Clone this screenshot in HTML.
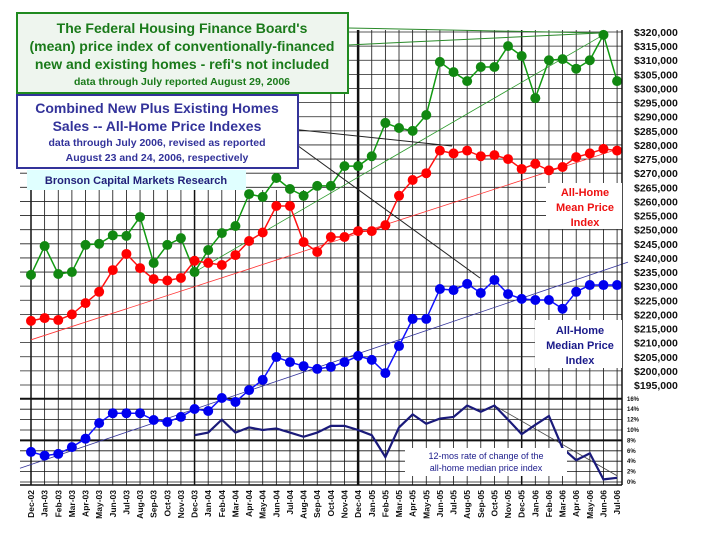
<!DOCTYPE html>
<html><head><meta charset="utf-8"><style>
body{margin:0;background:#fff;width:702px;height:539px;overflow:hidden;font-family:"Liberation Sans",sans-serif}
svg text{font-family:"Liberation Sans",sans-serif;font-weight:bold}
</style></head><body>
<svg id="chart" width="702" height="539" viewBox="0 0 702 539" xmlns="http://www.w3.org/2000/svg">
<g id="grid"></g>
<g id="trends"></g>
<g id="series"></g>
<g id="axes"></g>
<g>
<line x1="348" y1="28" x2="600" y2="33" stroke="#2a8a2a" stroke-width="1"/>
<line x1="348" y1="45" x2="600" y2="33" stroke="#2a8a2a" stroke-width="1"/>
<line x1="272" y1="127" x2="452" y2="146" stroke="#222" stroke-width="1"/>
<line x1="272" y1="127" x2="480" y2="278" stroke="#222" stroke-width="1"/>
<rect x="17" y="13" width="331" height="80" fill="#eef5ee" stroke="#1f8a1f" stroke-width="2"/>
<text x="182" y="33" font-size="14" fill="#1a7a1a" text-anchor="middle">The Federal Housing Finance Board's</text>
<text x="182" y="51" font-size="14" fill="#1a7a1a" text-anchor="middle">(mean) price index of conventionally-financed</text>
<text x="182" y="69" font-size="14" fill="#1a7a1a" text-anchor="middle">new and existing homes - refi's not included</text>
<text x="182" y="85" font-size="10.5" fill="#1a7a1a" text-anchor="middle">data through July reported August 29, 2006</text>
<rect x="17" y="95" width="281" height="73" fill="#fff" stroke="#33339a" stroke-width="2"/>
<text x="157" y="113" font-size="14" fill="#33339a" text-anchor="middle">Combined New Plus Existing Homes</text>
<text x="157" y="131" font-size="14" fill="#33339a" text-anchor="middle">Sales -- All-Home Price Indexes</text>
<text x="157" y="146" font-size="10.5" fill="#33339a" text-anchor="middle">data through July 2006, revised as reported</text>
<text x="157" y="161" font-size="10.5" fill="#33339a" text-anchor="middle">August 23 and 24, 2006, respectively</text>
<rect x="27" y="170" width="219" height="20" fill="#e0ffff"/>
<text x="136" y="184" font-size="11" fill="#22227a" text-anchor="middle">Bronson Capital Markets Research</text>
<rect x="546" y="183" width="76" height="46" fill="#fff"/>
<text x="585" y="196" font-size="11" fill="#ee1111" text-anchor="middle">All-Home</text>
<text x="585" y="211" font-size="11" fill="#ee1111" text-anchor="middle">Mean Price</text>
<text x="585" y="226" font-size="11" fill="#ee1111" text-anchor="middle">Index</text>
<rect x="535" y="320" width="87" height="48" fill="#fff"/>
<text x="580" y="334" font-size="11" fill="#1a1a8a" text-anchor="middle">All-Home</text>
<text x="580" y="349" font-size="11" fill="#1a1a8a" text-anchor="middle">Median Price</text>
<text x="580" y="364" font-size="11" fill="#1a1a8a" text-anchor="middle">Index</text>
<rect x="405" y="448" width="162" height="28" fill="#fff"/>
<text x="486" y="459" font-size="9" fill="#1a1a8a" text-anchor="middle" style="font-weight:normal">12-mos rate of change of the</text>
<text x="486" y="471" font-size="9" fill="#1a1a8a" text-anchor="middle" style="font-weight:normal">all-home median price index</text>
</g>
</svg>
<script>
const months=["Dec-02","Jan-03","Feb-03","Mar-03","Apr-03","May-03","Jun-03","Jul-03","Aug-03","Sep-03","Oct-03","Nov-03","Dec-03","Jan-04","Feb-04","Mar-04","Apr-04","May-04","Jun-04","Jul-04","Aug-04","Sep-04","Oct-04","Nov-04","Dec-04","Jan-05","Feb-05","Mar-05","Apr-05","May-05","Jun-05","Jul-05","Aug-05","Sep-05","Oct-05","Nov-05","Dec-05","Jan-06","Feb-06","Mar-06","Apr-06","May-06","Jun-06","Jul-06"];
const fhfbMean=[234,244.2,234.3,235,244.6,245,248,247.8,254.5,238.2,244.6,247,235,242.8,248.8,251.3,262.6,261.6,268.3,264.4,262,265.5,265.5,272.5,272.5,276,287.8,286,285,290.6,309.4,305.8,302.6,307.6,307.6,315,311.5,296.6,310,310.4,307,310,319,302.6];
const allMean=[217.7,218.7,218,220,224,228,235.7,241.4,236.4,232.5,232,232.9,239,238.2,237.5,241,246,249,258.4,258.4,245.6,242.1,247.4,247.4,249.5,249.5,251.6,262,267.6,270,278,277,278,276,276.4,275,271.5,273.3,271,272.2,275.7,277,278.6,278];
const allMedian=[171.3,170,170.6,173,176,181.5,185,185,185,182.6,181.9,183.7,186.5,185.8,190.4,189,193.2,196.8,204.9,203.1,201.7,200.7,201.4,203.1,205.3,203.9,199.2,208.8,218.4,218.4,229,228.6,230.8,227.6,232.2,227.2,225.5,225.1,225.1,222,228,230.4,230.4,230.4];
const rateStart=12;
const rateChange=[9,9.5,12,9.5,10.5,10,10.3,9.5,8.7,9.5,10.8,10.8,10,9,4.8,10.5,13,11.2,12.2,12.5,14.7,13.5,14.7,12,9.2,11,12.7,6.5,4.2,5.5,0.5,0.8];
const priceTicks=[320,315,310,305,300,295,290,285,280,275,270,265,260,255,250,245,240,235,230,225,220,215,210,205,200,195];
const rateTicks=[16,14,12,10,8,6,4,2,0];
const NS="http://www.w3.org/2000/svg";
const X=i=>31+i*13.63;
const Y=v=>32+(320-v)/5*14.12;
const R=p=>482-p*5.2;
function mk(parent,tag,attrs){const e=document.createElementNS(NS,tag);for(const k in attrs)e.setAttribute(k,attrs[k]);document.getElementById(parent).appendChild(e);return e;}
for(let i=0;i<months.length;i++){
  const thick=(i===24);
  const l=mk('grid','line',{x1:X(i),x2:X(i),y1:(i<22?190:30),y2:485,stroke:'#111','stroke-width':thick?2.5:(i%12===0?1.5:0.8)});
  
  
}
priceTicks.forEach(v=>{
  const l=mk('grid','line',{x1:20,x2:622,y1:Y(v),y2:Y(v),stroke:'#222','stroke-width':0.8});
  
  
});
rateTicks.forEach(p=>{
  const l=mk('grid','line',{x1:20,x2:622,y1:R(p),y2:R(p),stroke:'#111','stroke-width':(p===16||p===8)?2:0.8});
  
  
});
let a=mk('axes','line',{x1:622,x2:622,y1:30,y2:485,stroke:'#111','stroke-width':1.5});


a=mk('axes','line',{x1:20,x2:622,y1:485,y2:485,stroke:'#111','stroke-width':1.5});


priceTicks.forEach(v=>{
  const t=mk('axes','text',{x:634,y:Y(v)+4,'font-size':10.5,fill:'#111'});
  t.textContent='$'+v+',000';
  
  
});
rateTicks.forEach(p=>{
  const t=mk('axes','text',{x:627,y:R(p)+2,'font-size':6,fill:'#111'});
  t.textContent=p+'%';
  
  
});
months.forEach((m,i)=>{
  const t=mk('axes','text',{x:0,y:0,'font-size':8.5,fill:'#111','text-anchor':'end',transform:`translate(${X(i)+3},490) rotate(-90)`});
  t.textContent=m;
  
  
});
let tl=mk('trends','line',{x1:X(12),y1:Y(fhfbMean[12]),x2:X(42),y2:Y(319),stroke:'#2a9a2a','stroke-width':0.8});


tl=mk('trends','line',{x1:X(0),y1:Y(211),x2:622,y2:Y(279),stroke:'#f33','stroke-width':0.8});


tl=mk('trends','line',{x1:20,y1:Y(165.5),x2:628,y2:Y(238.5),stroke:'#33339a','stroke-width':0.8});


tl=mk('trends','line',{x1:X(34),y1:R(14.7),x2:X(43),y2:R(1.2),stroke:'#444','stroke-width':0.8});


function series(vals,color,name,dot){
  const pts=vals.map((v,i)=>X(i)+','+Y(v)).join(' ');
  const p=mk('series','polyline',{points:pts,fill:'none',stroke:color,'stroke-width':1.5});
  
  
  vals.forEach((v,i)=>{
    const c=mk('series','circle',{cx:X(i),cy:Y(v),r:5,fill:dot});
    
    
  });
}
series(fhfbMean,'#119911','fhfb-mean','#118811');
series(allMean,'#ff1111','all-home-mean','#ff0000');
series(allMedian,'#1111ff','all-home-median','#0000ee');
const rp=rateChange.map((v,i)=>X(i+rateStart)+','+R(v)).join(' ');
const rl=mk('series','polyline',{points:rp,fill:'none',stroke:'#1a1a7a','stroke-width':2.2});


</script>
</body></html>
